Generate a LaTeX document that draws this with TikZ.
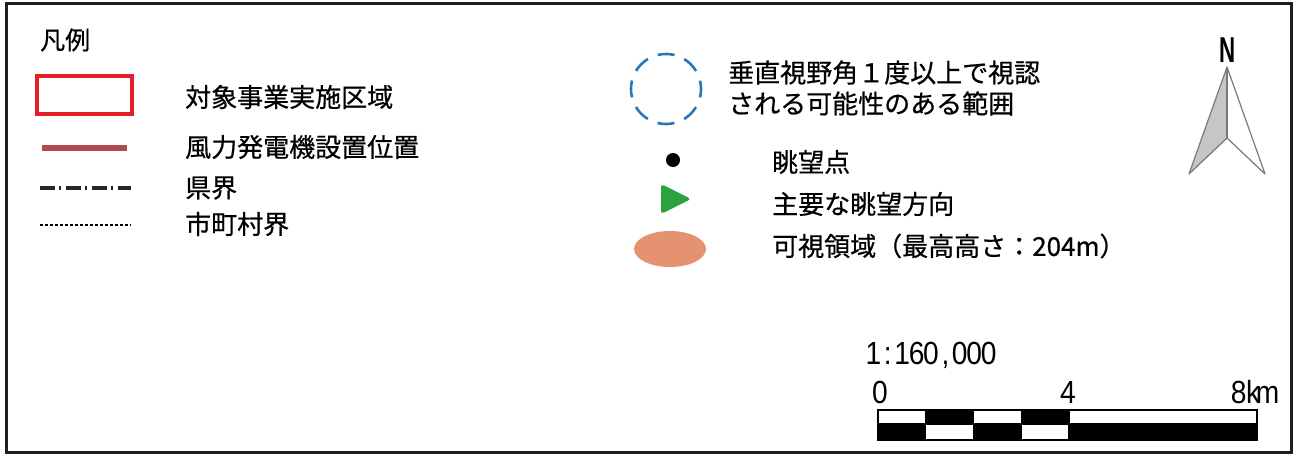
\documentclass[tikz,border=0pt]{standalone}
\usepackage{fontspec}
\setmainfont[FakeBold=0.6]{Noto Sans CJK JP}
\newfontfamily\latinN{Liberation Sans}
\definecolor{framegray}{RGB}{30,30,30}
\definecolor{areared}{RGB}{226,30,38}
\definecolor{turbbrown}{RGB}{178,74,78}
\definecolor{visblue}{RGB}{40,120,185}
\definecolor{viewgreen}{RGB}{44,162,62}
\definecolor{visorange}{RGB}{228,146,112}
\newcommand\mch[1]{\makebox[14.4pt][c]{\scalebox{0.88}[1]{#1}}}
\begin{document}
\begin{tikzpicture}[x=1pt,y=-1pt,
  lbl/.style={anchor=west,inner sep=0pt,font=\fontsize{26}{31}\selectfont},
  numlbl/.style={inner sep=0pt,font=\latinN\fontsize{32}{34}\selectfont},
  scalecell/.style={draw=black,line width=1.4pt}]
\useasboundingbox (0,0) rectangle (1297,455);
% frame
\draw[framegray,line width=3pt] (6,3) rectangle (1291,452);
% title
\node[anchor=west,inner sep=0pt,font=\fontsize{25}{28}\selectfont] (title) at (40,40) {凡例};
% left legend symbols
\draw[areared,line width=3.2pt] (37,76) rectangle (132,114);
\draw[turbbrown,line width=6pt] (42,148) -- (127,148);
\draw[black!85,line width=3.6pt,dash pattern=on 15pt off 4pt on 2pt off 5pt] (40,188) -- (131,188);
\draw[black,line width=1.4pt,dash pattern=on 3pt off 2pt] (40,225) -- (131,225);
\node[lbl] (area) at (185,97) {対象事業実施区域};
\node[lbl] (turb) at (185,147) {風力発電機設置位置};
\node[lbl] (pref) at (185,188) {県界};
\node[lbl] (muni) at (185,224) {市町村界};
% right legend symbols
\draw[visblue,line width=2.6pt,dash pattern=on 17pt off 10.5pt,dash phase=8.5pt] (666,89) circle (35);
\node[lbl,align=left] (vis1) at (728,88) {垂直視野角１度以上で視認\\される可能性のある範囲};
\fill[black] (673,160) circle (7);
\node[lbl] (vp) at (772,162) {眺望点};
\fill[viewgreen,rounded corners=3pt] (661,184) -- (691,199) -- (661,214) -- cycle;
\node[lbl] (dir) at (772,204) {主要な眺望方向};
\fill[visorange] (670,249) ellipse (36 and 18);
\node[lbl] (zone) at (772,246) {可視領域（最高高さ：204m）};
% north arrow
\fill[gray!45] (1227,67) -- (1189,174) -- (1227,138) -- cycle;
\draw[gray!95!black,line width=1.2pt,line join=round] (1227,67) -- (1189,174) -- (1227,138) -- (1265,174) -- cycle;
\draw[gray!95!black,line width=1.2pt] (1227,67) -- (1227,138);
\node[inner sep=0pt] (north) at (1228,50) {\scalebox{0.62}[1]{\latinN\bfseries\fontsize{36}{36}\selectfont N}};
% scale
\node[numlbl,anchor=west] (ratio) at (866,355) {\mch{1}\mch{:}\mch{1}\mch{6}\mch{0}\mch{,}\mch{0}\mch{0}\mch{0}};
\node[numlbl] (s0) at (880,392) {\mch{0}};
\node[numlbl] (s4) at (1068,392) {\mch{4}};
\node[numlbl,anchor=east] (s8) at (1275,392) {\mch{8}\mch{k}\mch{m}};
\foreach \i in {0,1,2,3}{
  \pgfmathsetmacro{\xa}{878+47.75*\i}
  \pgfmathsetmacro{\xb}{878+47.75*(\i+1)}
  \ifodd\i
    \filldraw[scalecell,fill=black] (\xa,410) rectangle (\xb,424);
    \filldraw[scalecell,fill=white] (\xa,424) rectangle (\xb,440);
  \else
    \filldraw[scalecell,fill=white] (\xa,410) rectangle (\xb,424);
    \filldraw[scalecell,fill=black] (\xa,424) rectangle (\xb,440);
  \fi
}
\filldraw[scalecell,fill=white] (1069,410) rectangle (1257,424);
\filldraw[scalecell,fill=black] (1069,424) rectangle (1257,440);
\end{tikzpicture}
\end{document}
